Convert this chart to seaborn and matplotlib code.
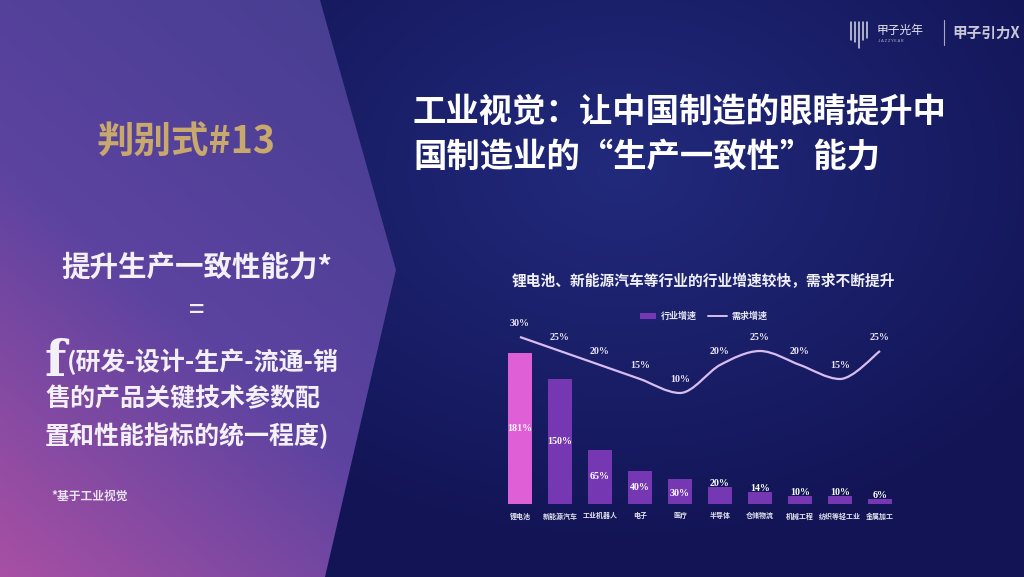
import numpy as np
import pandas as pd
import matplotlib
matplotlib.use("Agg")
import matplotlib.pyplot as plt
from matplotlib.path import Path
from matplotlib.patches import PathPatch, Polygon, Rectangle
from matplotlib.lines import Line2D
import seaborn as sns

# ---------------- data ----------------
categories = ["锂电池", "新能源汽车", "工业机器人", "电子", "医疗",
              "半导体", "仓储物流", "机械工程", "纺织等轻工业", "金属加工"]
industry_growth = [181, 150, 65, 40, 30, 20, 14, 10, 10, 6]
demand_growth = [30, 25, 20, 15, 10, 20, 25, 20, 15, 25]
bar_legend = "行业增速"
line_legend = "需求增速"
chart_title = "锂电池、新能源汽车等行业的行业增速较快，需求不断提升"
main_title = ["工业视觉：让中国制造的眼睛提升中", "国制造业的“生产一致性”能力"]

sns.set_theme(style="white")
plt.rcParams['font.family'] = ['Noto Sans CJK SC', 'DejaVu Sans']

W, H = 1024, 577
fig = plt.figure(figsize=(W / 100, H / 100), dpi=100)

# ---------------- background ----------------
bg = fig.add_axes([0, 0, 1, 1])
bg.set_xlim(0, W)
bg.set_ylim(H, 0)
bg.axis("off")

yy, xx = np.mgrid[0:H:2, 0:W:2]
c_dark = np.array([0x12, 0x14, 0x55]) / 255
c_light = np.array([0x22, 0x2a, 0x7c]) / 255
d = np.sqrt(((xx - 620) / 520) ** 2 + ((yy - 170) / 380) ** 2)
t = np.clip(1 - d, 0, 1)[..., None]
img = c_dark * (1 - t) + c_light * t
bg.imshow(img, extent=[0, W, H, 0], aspect="auto", zorder=0)

# left chevron panel gradient
ca = np.array([0x44, 0x3d, 0x8f]) / 255   # top right
cb = np.array([0x5c, 0x43, 0xa0]) / 255   # middle
cc = np.array([0xa8, 0x50, 0xa4]) / 255   # bottom left
s = np.clip(((yy / H) * 0.75 + (1 - xx / 400) * 0.45), 0, 1.2) / 1.2
s = s[..., None]
img2 = np.where(s < 0.55, ca * (1 - s / 0.55) + cb * (s / 0.55),
                cb * (1 - (s - 0.55) / 0.45) + cc * ((s - 0.55) / 0.45))
im2 = bg.imshow(img2, extent=[0, W, H, 0], aspect="auto", zorder=1)
panel = Polygon([(0, 0), (320, 0), (396, 270), (325, H), (0, H)], closed=True,
                facecolor="none", edgecolor="none", transform=bg.transData)
bg.add_patch(panel)
im2.set_clip_path(panel)

# ---------------- left panel text ----------------
gold = "#c9a86e"
txt = "#f4f0f8"
bg.text(186, 142, "判别式#13", color=gold, fontsize=27, fontweight="bold",
        ha="center", va="center", zorder=5)
bg.text(197, 268, "提升生产一致性能力*", color=txt, fontsize=20.5,
        fontweight="bold", ha="center", va="center", zorder=5)
bg.text(197, 311, "=", color=txt, fontsize=20, ha="center", va="center", zorder=5)
bg.text(44, 376, "f", color=txt, fontsize=36, family=["DejaVu Serif"],
        fontweight="bold", ha="left", va="baseline", zorder=5)
bg.text(67, 362, "(研发-设计-生产-流通-销", color=txt, fontsize=18,
        fontweight="bold", ha="left", va="center", zorder=5)
bg.text(45, 399, "售的产品关键技术参数配", color=txt, fontsize=18,
        fontweight="bold", ha="left", va="center", zorder=5)
bg.text(45, 436, "置和性能指标的统一程度)", color=txt, fontsize=18,
        fontweight="bold", ha="left", va="center", zorder=5)
bg.text(51, 496, "*基于工业视觉", color="#e8e2f0", fontsize=8.5,
        fontweight="bold", ha="left", va="center", zorder=5)

# ---------------- right titles ----------------
bg.text(413, 112, main_title[0], color="white", fontsize=24, fontweight="bold",
        ha="left", va="center", zorder=5)
bg.text(413, 157, main_title[1], color="white", fontsize=24, fontweight="bold",
        ha="left", va="center", zorder=5)
bg.text(512, 281, chart_title, color="#f0f0f8", fontsize=10.6, fontweight="bold",
        ha="left", va="center", zorder=5)

# logo
for x0, y1 in [(851, 40), (855, 42), (859, 48), (863, 40), (867, 38)]:
    bg.add_line(Line2D([x0, x0], [22, y1], color="#d8d8e6", lw=1.1, zorder=5))
bg.text(877, 30, "甲子光年", color="#e6e6f0", fontsize=8.5, ha="left", va="center", zorder=5)
bg.text(878, 41, "J A Z Z Y E A R", color="#b8b8cc", fontsize=3, ha="left", va="center", zorder=5)
bg.add_line(Line2D([944, 944], [20, 45], color="#a8a8c0", lw=0.8, zorder=5))
bg.text(952, 33, "甲子引力X", color="#c8c8da", fontsize=10.5, fontweight="bold",
        ha="left", va="center", zorder=5)

# ---------------- chart ----------------
ax_left, ax_right, ax_top, ax_bottom = 500, 900, 330, 504
ax = fig.add_axes([ax_left / W, (H - ax_bottom) / H, (ax_right - ax_left) / W,
                   (ax_bottom - ax_top) / H])
ax.patch.set_alpha(0)
df = pd.DataFrame({"cat": categories, "ind": industry_growth, "dem": demand_growth})
bar_colors = ["#de5fd6"] + ["#7537b2"] * (len(categories) - 1)
sns.barplot(data=df, x="cat", y="ind", hue="cat", palette=bar_colors, legend=False,
            width=0.6, ax=ax, saturation=1, zorder=3, linewidth=0, edgecolor="none")
px_per_unit = 151 / 181
ax.set_xlim(-0.5, len(categories) - 0.5)
ax.set_ylim(0, (ax_bottom - ax_top) / px_per_unit)
for sp in ax.spines.values():
    sp.set_visible(False)
ax.set_xlabel("")
ax.set_ylabel("")
ax.set_yticks([])
ax.tick_params(axis="x", length=0, pad=6, labelsize=5, labelcolor="#e4e4ee")
for lab in ax.get_xticklabels():
    lab.set_fontweight("bold")

for i, v in enumerate(industry_growth):
    ly = v / 2 if v >= 30 else v + 4
    if v == 30:
        ly = v / 2 - 2
    ax.text(i, ly, f"{v}%", color="white", fontsize=7.2, fontweight="bold",
            family=["Liberation Serif"], ha="center", va="center", zorder=6)

# line on secondary axis
ax2 = ax.twinx()
ax2.patch.set_alpha(0)
line_px = 2.8
zero_y = 421
ax2.set_ylim(-(ax_bottom - zero_y) / line_px, (zero_y - ax_top) / line_px)
ax2.set_yticks([])
for sp in ax2.spines.values():
    sp.set_visible(False)
line_color = "#d9bdf0"
sns.lineplot(x=np.arange(len(demand_growth)), y=demand_growth, ax=ax2,
             color=line_color, lw=0, alpha=0)
# smooth curve through the data points (cubic Bezier segments)
xs = np.arange(len(demand_growth), dtype=float)
ys = np.array(demand_growth, dtype=float)
verts = [(xs[0], ys[0])]
codes = [Path.MOVETO]
k = 0.15
for i in range(len(xs) - 1):
    p0 = np.array([xs[max(i - 1, 0)], ys[max(i - 1, 0)]])
    p1 = np.array([xs[i], ys[i]])
    p2 = np.array([xs[i + 1], ys[i + 1]])
    p3 = np.array([xs[min(i + 2, len(xs) - 1)], ys[min(i + 2, len(xs) - 1)]])
    c1 = p1 + (p2 - p0) * k
    c2 = p2 - (p3 - p1) * k
    if i > 0 and (ys[i] - ys[i - 1]) * (ys[i + 1] - ys[i]) <= 0:
        c1 = np.array([p1[0] + 0.33, p1[1]])
    if i + 2 < len(xs) and (ys[i + 1] - ys[i]) * (ys[i + 2] - ys[i + 1]) <= 0:
        c2 = np.array([p2[0] - 0.33, p2[1]])
    verts += [tuple(c1), tuple(c2), tuple(p2)]
    codes += [Path.CURVE4, Path.CURVE4, Path.CURVE4]
ax2.add_patch(PathPatch(Path(verts, codes), facecolor="none", edgecolor=line_color,
                        lw=1.6, zorder=5))
for i, v in enumerate(demand_growth):
    ax2.text(i, v + 5, f"{v}%", color="#ece4f6", fontsize=7.2, fontweight="bold",
             family=["Liberation Serif"], ha="center", va="center", zorder=6,
             clip_on=False)

# legend
bg.add_patch(Rectangle((640, 313), 16, 6, facecolor="#7537b2", edgecolor="none", zorder=5))
bg.text(661, 316, bar_legend, color="#e8e8f2", fontsize=6.5, fontweight="bold",
        ha="left", va="center", zorder=5)
bg.add_line(Line2D([708, 727], [316, 316], color=line_color, lw=1.4, zorder=5))
bg.text(731, 316, line_legend, color="#e8e8f2", fontsize=6.5, fontweight="bold",
        ha="left", va="center", zorder=5)

fig.savefig("out.png", dpi=100)
